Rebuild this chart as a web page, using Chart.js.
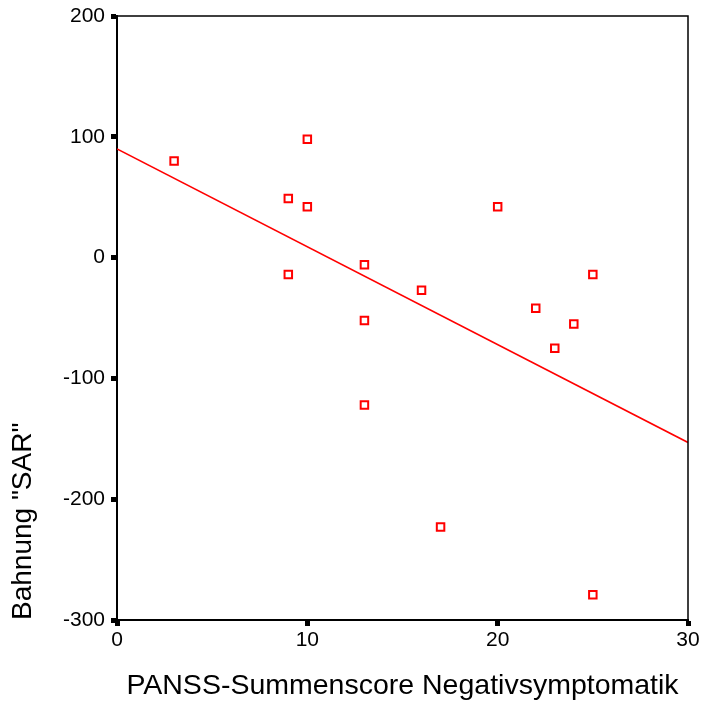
<!DOCTYPE html>
<html>
<head>
<meta charset="utf-8">
<script src="https://cdn.jsdelivr.net/npm/chart.js@4"></script>
<style>
  html, body { margin: 0; padding: 0; background: #fff; }
  #wrap { width: 704px; height: 728px; }
</style>
</head>
<body>
<div id="wrap"><canvas id="myChart" width="704" height="728"></canvas></div>
<script>
// PANSS negative score vs. "SAR" priming
const panssNeg = [3, 10, 9, 10, 9, 13, 13, 13, 16, 20, 22, 24, 23, 25, 17, 25];
const sarValues = [80, 98, 49, 42, -14, -6, -52, -122, -27, 42, -42, -55, -75, -14, -223, -279];

// fit line end points
const fitX = [0, 30];
const fitY = [90, -153];

const xTicks = [0, 10, 20, 30];
const yTicks = [-300, -200, -100, 0, 100, 200];

const points = panssNeg.map((x, i) => ({ x: x, y: sarValues[i] }));
const fitLine = fitX.map((x, i) => ({ x: x, y: fitY[i] }));

// frame on top and right of the plot
const frame = {
  id: "frame",
  afterDatasetsDraw(chart) {
    const { ctx, chartArea: a } = chart;
    ctx.save();
    ctx.strokeStyle = "#000";
    ctx.lineWidth = 1.5;
    ctx.beginPath();
    ctx.moveTo(a.left, a.top);
    ctx.lineTo(a.right, a.top);
    ctx.lineTo(a.right, a.bottom);
    ctx.stroke();
    ctx.restore();
  },
};

const canvas = document.getElementById("myChart");
const myChart = new Chart(canvas, {
  type: "scatter",
  data: {
    datasets: [
      {
        label: "SAR",
        data: points,
        pointStyle: "rect",
        pointRadius: 5.3,
        pointHoverRadius: 5.3,
        borderColor: "#ff0000",
        backgroundColor: "rgba(0,0,0,0)",
        pointBorderWidth: 2,
        order: 1,
      },
      {
        type: "line",
        label: "fit",
        data: fitLine,
        borderColor: "#ff0000",
        borderWidth: 1.6,
        pointRadius: 0,
        fill: false,
        order: 2,
      },
    ],
  },
  options: {
    responsive: false,
    animation: false,
    layout: { padding: { top: 16, right: 16, left: 0, bottom: 0 } },
    plugins: { legend: { display: false }, tooltip: { enabled: false } },
    scales: {
      x: {
        type: "linear",
        min: 0,
        max: 30,
        afterBuildTicks: (s) => { s.ticks = xTicks.map((v) => ({ value: v })); },
        afterFit: (s) => {
          s.height = 108;
          s.paddingLeft = 0;
          s.paddingRight = 0;
        },
        border: { color: "#000", width: 2 },
        grid: {
          drawOnChartArea: false,
          drawTicks: true,
          tickLength: 6,
          tickWidth: 5,
          tickColor: "#000",
        },
        ticks: {
          color: "#000",
          padding: 2,
          font: { family: "Liberation Sans, Arial", size: 21 },
        },
        title: {
          display: true,
          text: "PANSS-Summenscore Negativsymptomatik",
          color: "#000",
          padding: { bottom: 25 },
          font: { family: "Liberation Sans, Arial", size: 28.5 },
        },
      },
      y: {
        type: "linear",
        min: -300,
        max: 200,
        afterBuildTicks: (s) => { s.ticks = yTicks.map((v) => ({ value: v })); },
        afterFit: (s) => {
          s.width = 117;
          s.paddingTop = 0;
          s.paddingBottom = 0;
        },
        border: { color: "#000", width: 2 },
        grid: {
          drawOnChartArea: false,
          drawTicks: true,
          tickLength: 6,
          tickWidth: 5,
          tickColor: "#000",
        },
        ticks: {
          color: "#000",
          padding: 6,
          font: { family: "Liberation Sans, Arial", size: 21 },
        },
        title: {
          display: true,
          text: 'Bahnung "SAR"',
          align: "start",
          color: "#000",
          padding: { top: 6 },
          font: { family: "Liberation Sans, Arial", size: 28 },
        },
      },
    },
  },
  plugins: [frame],
});
</script>
</body>
</html>
